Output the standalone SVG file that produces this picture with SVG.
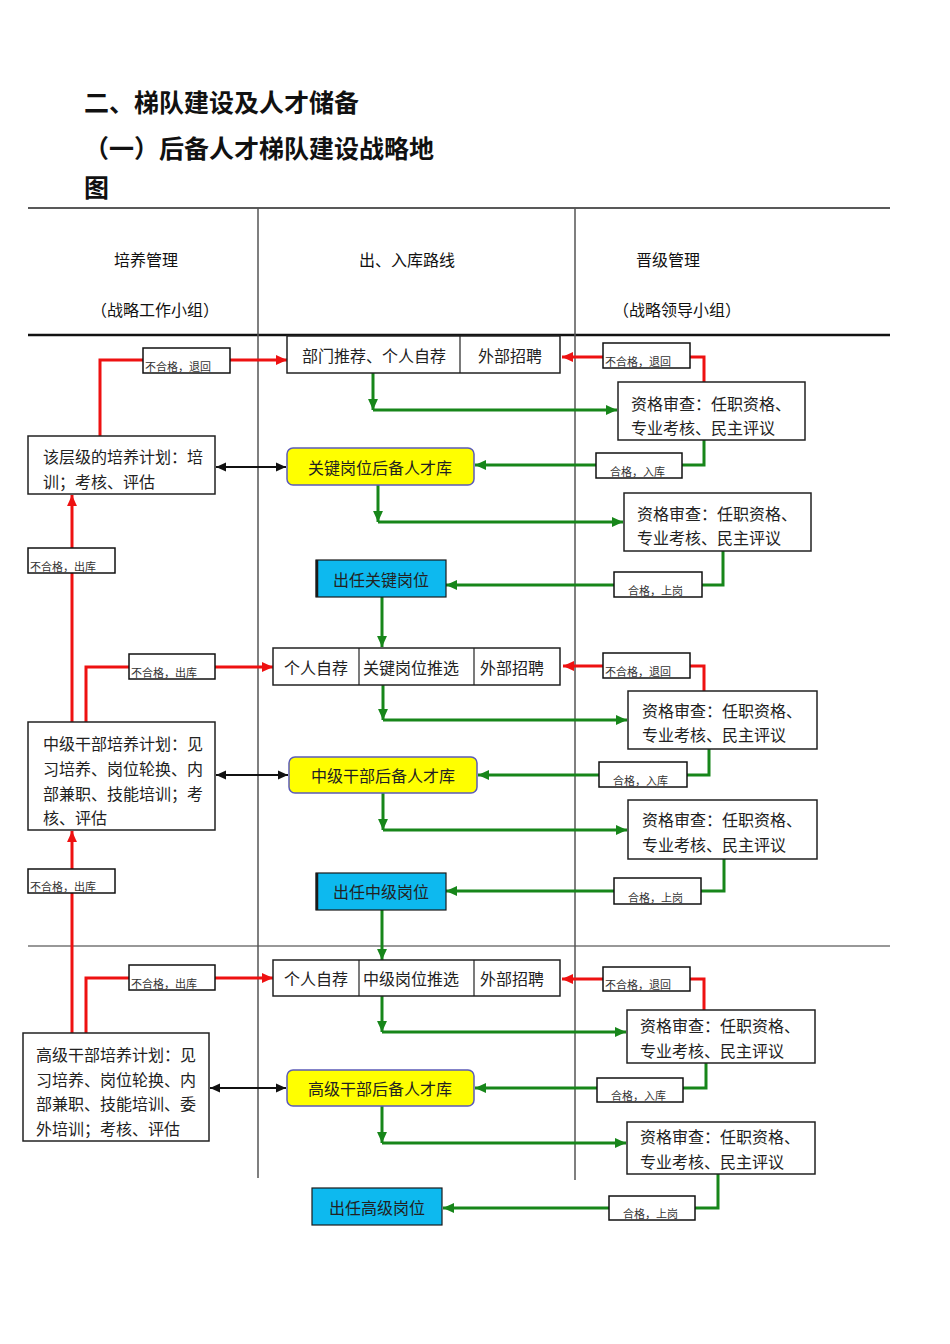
<svg xmlns="http://www.w3.org/2000/svg" width="950" height="1344" viewBox="0 0 950 1344">
<style>
text{font-family:"Noto Sans CJK SC","Noto Sans",sans-serif;fill:#222;dominant-baseline:central}
.title{font-size:25px;font-weight:700;fill:#111;dominant-baseline:auto}
.hd{font-size:16px;text-anchor:middle;fill:#111}
.t{font-size:16px}
.tc{font-size:16px;text-anchor:middle}
.lb{font-size:11px;fill:#333}
.box{fill:#fff;stroke:#222;stroke-width:1.5}
.lbox{fill:#fff;stroke:#111;stroke-width:1.5}
.ybox{fill:#ffff00;stroke:#5b5bb8;stroke-width:1.5}
.cbox{fill:#0db9ef;stroke:#1a1a1a;stroke-width:1.2}
.grid{stroke:#555;stroke-width:1.5;fill:none}
.red{stroke:#ee1111;stroke-width:3;fill:none;marker-end:url(#ar)}
.grn{stroke:#17861a;stroke-width:3;fill:none;marker-end:url(#ag)}
.blk{stroke:#111;stroke-width:2;fill:none;marker-start:url(#ab);marker-end:url(#ab)}
</style>
<defs>
<marker id="ar" viewBox="0 0 10 10" refX="10" refY="5" markerWidth="11" markerHeight="11" markerUnits="userSpaceOnUse" orient="auto"><path d="M0,0.5 L10,5 L0,9.5 z" fill="#ee1111"/></marker>
<marker id="ag" viewBox="0 0 10 10" refX="10" refY="5" markerWidth="11" markerHeight="11" markerUnits="userSpaceOnUse" orient="auto"><path d="M0,0.5 L10,5 L0,9.5 z" fill="#17861a"/></marker>
<marker id="ab" viewBox="0 0 10 10" refX="10" refY="5" markerWidth="10" markerHeight="10" markerUnits="userSpaceOnUse" orient="auto-start-reverse"><path d="M0,0.5 L10,5 L0,9.5 z" fill="#111"/></marker>
</defs>
<rect width="950" height="1344" fill="#fff"/>

<g id="titles">
<text class="title" x="84" y="112">二、梯队建设及人才储备</text>
<text class="title" x="84" y="158">（一）后备人才梯队建设战略地</text>
<text class="title" x="84" y="197">图</text>
</g>

<g id="table">
<line x1="28" y1="208" x2="890" y2="208" stroke="#222" stroke-width="1.5"/>
<line x1="28" y1="335" x2="890" y2="335" stroke="#111" stroke-width="2.5"/>
<line x1="28" y1="946" x2="890" y2="946" stroke="#333" stroke-width="1.2"/>
<line class="grid" x1="258" y1="208" x2="258" y2="1178"/>
<line class="grid" x1="575" y1="208" x2="575" y2="1180"/>
<text class="hd" x="146" y="259">培养管理</text>
<text class="hd" x="155" y="309">（战略工作小组）</text>
<text class="hd" x="407" y="259">出、入库路线</text>
<text class="hd" x="668" y="259">晋级管理</text>
<text class="hd" x="677" y="309">（战略领导小组）</text>
</g>

<g id="connectors">
<path class="red" d="M100,436 V360 H287"/>
<path class="red" d="M704,382 V357 H562"/>
<path class="grn" d="M373,373 V410"/>
<path class="grn" d="M373,410 H617"/>
<path class="grn" d="M704,440 V465 H475"/>
<path class="blk" d="M216,467 H286"/>
<path class="grn" d="M378,485 V522"/>
<path class="grn" d="M378,522 H623"/>
<path class="grn" d="M723,551 V585 H446"/>
<path class="grn" d="M382,597 V647"/>
<path class="red" d="M72,722 V495"/>
<path class="red" d="M86,722 V667 H273"/>
<path class="red" d="M704,691 V666 H563"/>
<path class="grn" d="M383,685 V720"/>
<path class="grn" d="M383,720 H627"/>
<path class="grn" d="M709,749 V775 H478"/>
<path class="blk" d="M216,775 H288"/>
<path class="grn" d="M383,793 V830"/>
<path class="grn" d="M383,830 H627"/>
<path class="grn" d="M724,859 V891 H446"/>
<path class="grn" d="M382,910 V960"/>
<path class="red" d="M72,1033 V831"/>
<path class="red" d="M86,1033 V978 H273"/>
<path class="red" d="M704,1010 V979 H562"/>
<path class="grn" d="M382,996 V1032"/>
<path class="grn" d="M382,1032 H626"/>
<path class="grn" d="M706,1063 V1088 H475"/>
<path class="blk" d="M210,1088 H286"/>
<path class="grn" d="M382,1106 V1143"/>
<path class="grn" d="M382,1143 H626"/>
<path class="grn" d="M718,1174 V1208 H443"/>
</g>

<g id="labels">
<g id="lbl1"><rect class="lbox" x="143" y="348" width="87" height="25"/><text class="lb" x="145" y="366">不合格，退回</text></g>
<g id="lbl2"><rect class="lbox" x="603" y="343" width="87" height="25"/><text class="lb" x="605" y="361">不合格，退回</text></g>
<g id="lbl3"><rect class="lbox" x="596" y="453" width="86" height="25"/><text class="lb" x="610" y="471">合格，入库</text></g>
<g id="lbl4"><rect class="lbox" x="28" y="548" width="87" height="25"/><text class="lb" x="30" y="566">不合格，出库</text></g>
<g id="lbl5"><rect class="lbox" x="614" y="572" width="88" height="25"/><text class="lb" x="628" y="590">合格，上岗</text></g>
<g id="lbl6"><rect class="lbox" x="129" y="654" width="86" height="25"/><text class="lb" x="131" y="672">不合格，出库</text></g>
<g id="lbl7"><rect class="lbox" x="603" y="653" width="87" height="25"/><text class="lb" x="605" y="671">不合格，退回</text></g>
<g id="lbl8"><rect class="lbox" x="599" y="762" width="88" height="25"/><text class="lb" x="613" y="780">合格，入库</text></g>
<g id="lbl9"><rect class="lbox" x="28" y="869" width="87" height="24"/><text class="lb" x="30" y="886">不合格，出库</text></g>
<g id="lbl10"><rect class="lbox" x="614" y="878" width="87" height="26"/><text class="lb" x="628" y="897">合格，上岗</text></g>
<g id="lbl11"><rect class="lbox" x="129" y="965" width="86" height="25"/><text class="lb" x="131" y="983">不合格，出库</text></g>
<g id="lbl12"><rect class="lbox" x="603" y="967" width="87" height="24"/><text class="lb" x="605" y="984">不合格，退回</text></g>
<g id="lbl13"><rect class="lbox" x="597" y="1078" width="86" height="24"/><text class="lb" x="611" y="1095">合格，入库</text></g>
<g id="lbl14"><rect class="lbox" x="609" y="1196" width="86" height="24"/><text class="lb" x="623" y="1213">合格，上岗</text></g>
</g>

<g id="n-row1">
<rect class="box" x="287" y="336" width="273" height="37"/>
<line x1="460" y1="336" x2="460" y2="373" stroke="#222" stroke-width="1.2"/>
<text class="tc" x="374" y="355">部门推荐、个人自荐</text>
<text class="tc" x="510" y="355">外部招聘</text>
</g>
<g id="n-plan1">
<rect class="box" x="28" y="436" width="187" height="58"/>
<text class="t" x="43" y="456">该层级的培养计划：培</text>
<text class="t" x="43" y="481">训；考核、评估</text>
</g>
<g id="n-review1">
<rect class="box" x="618" y="382" width="187" height="58"/>
<text class="t" x="631" y="403">资格审查：任职资格、</text>
<text class="t" x="631" y="427">专业考核、民主评议</text>
</g>
<g id="n-pool1">
<rect class="ybox" x="287" y="448" width="187" height="37" rx="6"/>
<text class="tc" x="380" y="467">关键岗位后备人才库</text>
</g>
<g id="n-review2">
<rect class="box" x="624" y="493" width="187" height="58"/>
<text class="t" x="637" y="513">资格审查：任职资格、</text>
<text class="t" x="637" y="537">专业考核、民主评议</text>
</g>
<g id="n-post1">
<rect class="cbox" x="316" y="560" width="130" height="37"/>
<line x1="317" y1="560" x2="317" y2="597" stroke="#1a1a1a" stroke-width="2.5"/>
<text class="tc" x="381" y="579">出任关键岗位</text>
</g>

<g id="n-row2">
<rect class="box" x="273" y="648" width="287" height="37"/>
<line x1="359" y1="648" x2="359" y2="685" stroke="#222" stroke-width="1.2"/>
<line x1="474" y1="648" x2="474" y2="685" stroke="#222" stroke-width="1.2"/>
<text class="tc" x="316" y="667">个人自荐</text>
<text class="tc" x="411" y="667">关键岗位推选</text>
<text class="tc" x="512" y="667">外部招聘</text>
</g>
<g id="n-plan2">
<rect class="box" x="28" y="722" width="187" height="108"/>
<text class="t" x="43" y="743">中级干部培养计划：见</text>
<text class="t" x="43" y="768">习培养、岗位轮换、内</text>
<text class="t" x="43" y="793">部兼职、技能培训；考</text>
<text class="t" x="43" y="817">核、评估</text>
</g>
<g id="n-review3">
<rect class="box" x="628" y="691" width="189" height="58"/>
<text class="t" x="642" y="710">资格审查：任职资格、</text>
<text class="t" x="642" y="734">专业考核、民主评议</text>
</g>
<g id="n-pool2">
<rect class="ybox" x="289" y="757" width="188" height="36" rx="6"/>
<text class="tc" x="383" y="775">中级干部后备人才库</text>
</g>
<g id="n-review4">
<rect class="box" x="628" y="800" width="189" height="59"/>
<text class="t" x="642" y="819">资格审查：任职资格、</text>
<text class="t" x="642" y="844">专业考核、民主评议</text>
</g>
<g id="n-post2">
<rect class="cbox" x="316" y="873" width="130" height="37"/>
<line x1="317" y1="873" x2="317" y2="910" stroke="#1a1a1a" stroke-width="2.5"/>
<text class="tc" x="381" y="891">出任中级岗位</text>
</g>

<g id="n-row3">
<rect class="box" x="273" y="960" width="287" height="36"/>
<line x1="359" y1="960" x2="359" y2="996" stroke="#222" stroke-width="1.2"/>
<line x1="474" y1="960" x2="474" y2="996" stroke="#222" stroke-width="1.2"/>
<text class="tc" x="316" y="978">个人自荐</text>
<text class="tc" x="411" y="978">中级岗位推选</text>
<text class="tc" x="512" y="978">外部招聘</text>
</g>
<g id="n-plan3">
<rect class="box" x="23" y="1033" width="186" height="108"/>
<text class="t" x="36" y="1054">高级干部培养计划：见</text>
<text class="t" x="36" y="1079">习培养、岗位轮换、内</text>
<text class="t" x="36" y="1103">部兼职、技能培训、委</text>
<text class="t" x="36" y="1128">外培训；考核、评估</text>
</g>
<g id="n-review5">
<rect class="box" x="627" y="1010" width="188" height="53"/>
<text class="t" x="640" y="1025">资格审查：任职资格、</text>
<text class="t" x="640" y="1050">专业考核、民主评议</text>
</g>
<g id="n-pool3">
<rect class="ybox" x="287" y="1070" width="187" height="36" rx="6"/>
<text class="tc" x="380" y="1088">高级干部后备人才库</text>
</g>
<g id="n-review6">
<rect class="box" x="627" y="1122" width="188" height="52"/>
<text class="t" x="640" y="1136">资格审查：任职资格、</text>
<text class="t" x="640" y="1161">专业考核、民主评议</text>
</g>
<g id="n-post3">
<rect class="cbox" x="312" y="1188" width="130" height="37"/>
<text class="tc" x="377" y="1207">出任高级岗位</text>
</g>
</svg>
